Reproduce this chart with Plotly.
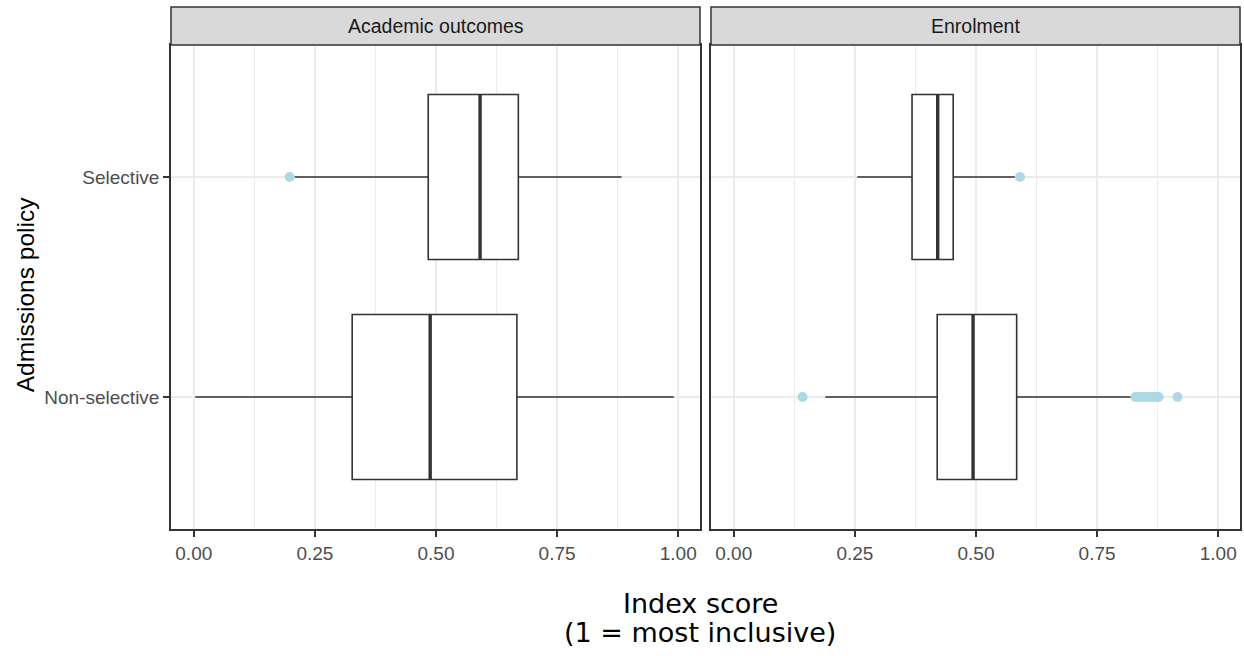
import plotly.graph_objects as go

# ---- data ----
panels = ["Academic outcomes", "Enrolment"]
categories = ["Non-selective", "Selective"]   # bottom -> top
cat_pos = [1, 2]

# Academic outcomes
acad_q1 = [0.327, 0.484]
acad_median = [0.488, 0.591]
acad_q3 = [0.667, 0.670]
acad_lower = [0.003, 0.208]
acad_upper = [0.991, 0.883]
acad_out_x = [0.198]
acad_out_cat = ["Selective"]

# Enrolment
enrol_q1 = [0.420, 0.368]
enrol_median = [0.494, 0.421]
enrol_q3 = [0.584, 0.453]
enrol_lower = [0.189, 0.255]
enrol_upper = [0.827, 0.580]
enrol_out_x = [0.142, 0.829, 0.836, 0.844, 0.851, 0.858, 0.865, 0.872, 0.877, 0.916, 0.591]
enrol_out_cat = ["Non-selective"] * 10 + ["Selective"]

x_tickvals = [0, 0.25, 0.5, 0.75, 1.0]
x_ticktext = ["0.00", "0.25", "0.50", "0.75", "1.00"]

BOX_W = 0.75
LINE_C = "#333333"
FONT = "Liberation Sans, Arial, sans-serif"

fig = go.Figure()

def add_panel(q1, med, q3, lo, hi, outx, outcat, xa, ya):
    fig.add_trace(go.Box(
        y=cat_pos, q1=q1, median=med, q3=q3, lowerfence=lo, upperfence=hi,
        orientation="h", width=BOX_W, fillcolor="white",
        line=dict(color=LINE_C, width=1.6), whiskerwidth=0,
        boxpoints=False, showlegend=False, xaxis=xa, yaxis=ya, hoverinfo="skip"))
    # thicker median line
    mx, my = [], []
    for p, m in zip(cat_pos, med):
        mx += [m, m, None]
        my += [p - BOX_W / 2, p + BOX_W / 2, None]
    fig.add_trace(go.Scatter(x=mx, y=my, mode="lines",
                             line=dict(color=LINE_C, width=3.4),
                             showlegend=False, xaxis=xa, yaxis=ya, hoverinfo="skip"))
    # outliers
    oy = [cat_pos[categories.index(c)] for c in outcat]
    fig.add_trace(go.Scatter(x=outx, y=oy, mode="markers",
                             marker=dict(color="#ADD8E6", size=10, line=dict(width=0)),
                             showlegend=False, xaxis=xa, yaxis=ya, hoverinfo="skip"))

add_panel(acad_q1, acad_median, acad_q3, acad_lower, acad_upper, acad_out_x, acad_out_cat, "x", "y")
add_panel(enrol_q1, enrol_median, enrol_q3, enrol_lower, enrol_upper, enrol_out_x, enrol_out_cat, "x2", "y2")

xcommon = dict(range=[-0.047, 1.045], tickvals=x_tickvals, ticktext=x_ticktext,
               showgrid=True, gridcolor="#EBEBEB", gridwidth=1.5, zeroline=False,
               showline=True, mirror=True, linecolor=LINE_C, linewidth=1.5,
               ticks="outside", ticklen=6, tickcolor=LINE_C, tickwidth=1.5,
               tickfont=dict(family=FONT, size=19, color="#4D4D4D"),
               minor=dict(tickvals=[0.125, 0.375, 0.625, 0.875], showgrid=True,
                          gridcolor="#EBEBEB", gridwidth=0.8, ticks=""))
ycommon = dict(range=[0.4, 2.6], tickvals=cat_pos, showgrid=True, gridcolor="#EBEBEB",
               gridwidth=1.5, zeroline=False, showline=True, mirror=True,
               linecolor=LINE_C, linewidth=1.5)

W, H = 1244, 656
L, R, T, B = 171, 2, 45, 127
pw = W - L - R
left_end = 530 / pw
right_start = (712 - L) / pw

fig.update_layout(
    width=W, height=H, margin=dict(l=L, r=R, t=T, b=B),
    plot_bgcolor="white", paper_bgcolor="white",
    xaxis=dict(domain=[0, left_end], anchor="y", **xcommon),
    xaxis2=dict(domain=[right_start, 1], anchor="y2", **xcommon),
    yaxis=dict(domain=[0, 1], anchor="x", ticktext=categories, ticks="outside",
               ticklen=6, tickcolor=LINE_C, tickwidth=1.5,
               tickfont=dict(family=FONT, size=19, color="#4D4D4D"), **ycommon),
    yaxis2=dict(domain=[0, 1], anchor="x2", showticklabels=False, ticks="", **ycommon),
)

ph = H - T - B
strip_h = 38 / ph
for xref, label in [("x domain", panels[0]), ("x2 domain", panels[1])]:
    fig.add_shape(type="rect", xref=xref, yref="y domain", x0=0, x1=1,
                  y0=1, y1=1 + strip_h, fillcolor="#D9D9D9",
                  line=dict(color=LINE_C, width=1.5), layer="above")
    fig.add_annotation(xref=xref, yref="y domain", x=0.5, y=1 + strip_h / 2,
                       text=label, showarrow=False, xanchor="center", yanchor="middle",
                       font=dict(family=FONT, size=19.5, color="#1A1A1A"))

# axis titles
def px_to_paper_y(py):
    return (H - B - py) / ph

def px_to_paper_x(pxx):
    return (pxx - L) / pw

fig.add_annotation(xref="paper", yref="paper", x=px_to_paper_x(701), y=px_to_paper_y(603),
                   text="Index score", showarrow=False, xanchor="center", yanchor="middle",
                   font=dict(family="DejaVu Sans", size=27, color="black"))
fig.add_annotation(xref="paper", yref="paper", x=px_to_paper_x(701), y=px_to_paper_y(632),
                   text="(1 = most inclusive)", showarrow=False, xanchor="center", yanchor="middle",
                   font=dict(family="DejaVu Sans", size=27, color="black"))
fig.add_annotation(xref="paper", yref="paper", x=px_to_paper_x(25), y=px_to_paper_y(295),
                   text="Admissions policy", showarrow=False, textangle=-90,
                   xanchor="center", yanchor="middle",
                   font=dict(family=FONT, size=24.5, color="black"))

fig.write_html("out.html")
